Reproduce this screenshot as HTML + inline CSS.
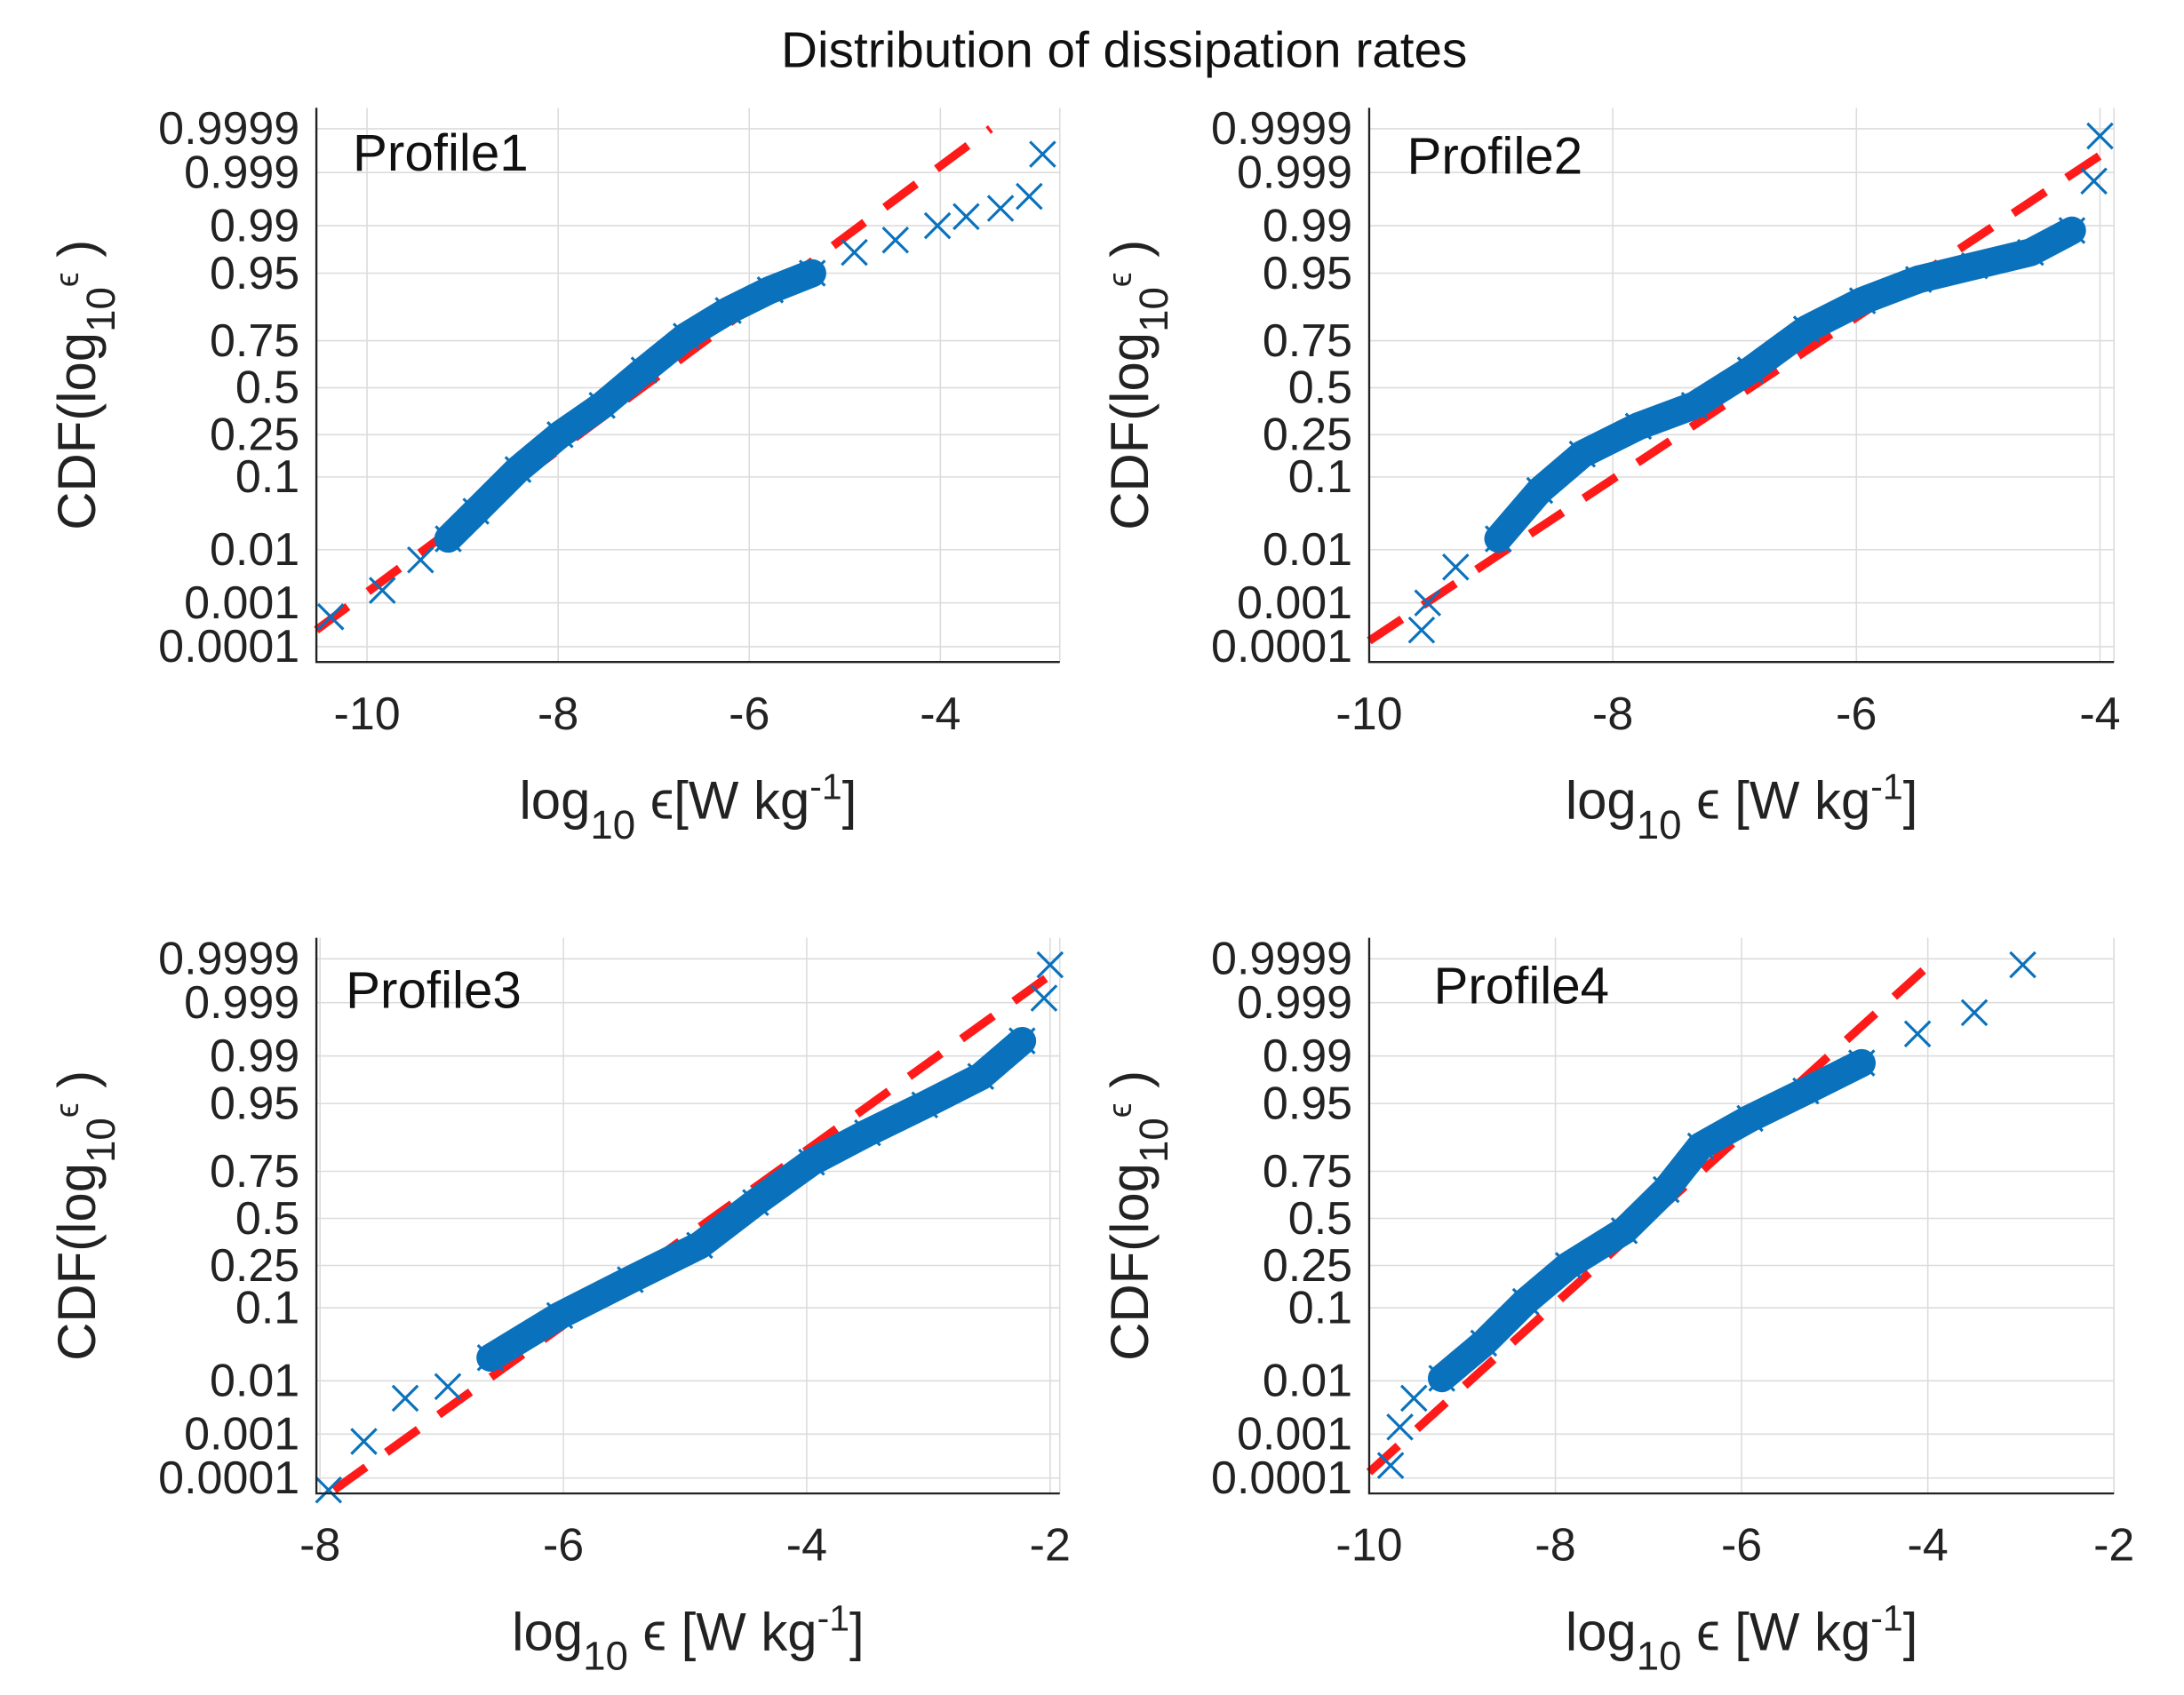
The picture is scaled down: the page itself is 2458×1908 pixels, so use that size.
<!DOCTYPE html>
<html><head><meta charset="utf-8"><style>
html,body{margin:0;padding:0;background:#fff}
svg{display:block;font-family:"Liberation Sans",sans-serif}
</style></head><body>
<svg id="fig" width="2458" height="1908" viewBox="0 0 1560 1211" preserveAspectRatio="none" xmlns="http://www.w3.org/2000/svg">
<text x="803" y="48" font-size="36" text-anchor="middle" fill="#111">Distribution of dissipation rates</text>
</svg>
<script>
// Profile data: log10 epsilon values and CDF probabilities
const p1x=[-10.38,-9.84,-9.44,-9.15,-8.86,-8.42,-7.98,-7.54,-7.10,-6.66,-6.22,-5.78,-5.34,-4.90,-4.47,-4.03,-3.73,-3.37,-3.07,-2.93];
const p1p=[0.0005,0.0018,0.0067,0.015,0.038,0.12,0.25,0.40,0.60,0.77,0.866,0.92,0.95,0.974,0.983,0.99,0.993,0.995,0.997,0.9996];
const p2x=[-9.57,-9.52,-9.29,-8.94,-8.60,-8.25,-7.79,-7.33,-6.87,-6.41,-5.95,-5.49,-5.03,-4.57,-4.23,-4.05,-4.00];
const p2p=[0.00025,0.001,0.005,0.015,0.07,0.17,0.29,0.40,0.60,0.80,0.894,0.94,0.96,0.974,0.988,0.9985,0.99985];
const p3x=[-7.93,-7.64,-7.30,-6.95,-6.60,-6.03,-5.45,-4.88,-4.42,-3.96,-3.50,-3.03,-2.57,-2.23,-2.05,-2.00];
const p3p=[0.00005,0.0007,0.005,0.008,0.023,0.082,0.19,0.35,0.59,0.79,0.89,0.948,0.979,0.9945,0.9992,0.99986];
const p4x=[-9.77,-9.67,-9.52,-9.22,-8.77,-8.32,-7.86,-7.26,-6.81,-6.44,-5.91,-5.31,-4.71,-4.11,-3.50,-2.98];
const p4p=[0.0002,0.0014,0.005,0.011,0.037,0.117,0.25,0.43,0.66,0.85,0.924,0.966,0.987,0.9959,0.9984,0.99986];
// Normal fit parameters (mean, std) for red dashed reference lines
const fitMu=[-7.12,-6.87,-4.78,-6.99];
const fitSigma=[0.98,0.861,0.798,0.828];
const yTickLabels=["0.0001","0.001","0.01","0.1","0.25","0.5","0.75","0.95","0.99","0.999","0.9999"];
const yTickValues=[0.0001,0.001,0.01,0.1,0.25,0.5,0.75,0.95,0.99,0.999,0.9999];
const xTicks1=[-10,-8,-6,-4];
const xTicks2=[-10,-8,-6,-4];
const xTicks3=[-8,-6,-4,-2];
const xTicks4=[-10,-8,-6,-4,-2];

function norminv(p){
  const a=[-39.6968302866538,220.946098424521,-275.928510446969,138.357751867269,-30.6647980661472,2.50662827745924];
  const b=[-54.4760987982241,161.585836858041,-155.698979859887,66.8013118877197,-13.2806815528857];
  const c=[-0.00778489400243029,-0.322396458041136,-2.40075827716184,-2.54973253934373,4.37466414146497,2.93816398269878];
  const d=[0.00778469570904146,0.32246712907004,2.445134137143,3.75440866190742];
  const pl=0.02425;let q,r;
  if(p<pl){q=Math.sqrt(-2*Math.log(p));return (((((c[0]*q+c[1])*q+c[2])*q+c[3])*q+c[4])*q+c[5])/((((d[0]*q+d[1])*q+d[2])*q+d[3])*q+1);}
  if(p>1-pl){q=Math.sqrt(-2*Math.log(1-p));return -(((((c[0]*q+c[1])*q+c[2])*q+c[3])*q+c[4])*q+c[5])/((((d[0]*q+d[1])*q+d[2])*q+d[3])*q+1);}
  q=p-0.5;r=q*q;return (((((a[0]*r+a[1])*r+a[2])*r+a[3])*r+a[4])*r+a[5])*q/(((((b[0]*r+b[1])*r+b[2])*r+b[3])*r+b[4])*r+1);
}
const NS="http://www.w3.org/2000/svg";
const svg=document.getElementById('fig');
function mk(tag,attrs,parent){const e=document.createElementNS(NS,tag);for(const k in attrs)e.setAttribute(k,attrs[k]);(parent||svg).appendChild(e);return e;}

const panels=[
 {name:'profile1',label:'Profile1',xs:p1x,ps:p1p,L:226,R:757,T:77,B:473,xmin:-10.53,xmax:-2.75,xt:xTicks1,dense:[3,12],lx:252,ly:122,sp:''},
 {name:'profile2',label:'Profile2',xs:p2x,ps:p2p,L:978,R:1510,T:77,B:473,xmin:-10,xmax:-3.885,xt:xTicks2,dense:[3,14],lx:1005,ly:124,sp:' '},
 {name:'profile3',label:'Profile3',xs:p3x,ps:p3p,L:226,R:757,T:670,B:1067,xmin:-8.03,xmax:-1.92,xt:xTicks3,dense:[4,13],lx:247,ly:720,sp:' '},
 {name:'profile4',label:'Profile4',xs:p4x,ps:p4p,L:978,R:1510,T:670,B:1067,xmin:-10,xmax:-2,xt:xTicks4,dense:[3,12],lx:1024,ly:717,sp:' '}
];
const zTop=4.02,zBot=-3.94;
panels.forEach((P,i)=>{
  const g=mk('g',{});
  
  
  const X=v=>P.L+(v-P.xmin)/(P.xmax-P.xmin)*(P.R-P.L);
  const Y=p=>P.B-(norminv(p)-zBot)/(zTop-zBot)*(P.B-P.T);
  const YZ=z=>P.B-(z-zBot)/(zTop-zBot)*(P.B-P.T);
  yTickValues.forEach((v,k)=>{
    const y=Y(v);
    const gl=mk('line',{x1:P.L,x2:P.R,y1:y,y2:y,stroke:'#dcdcdc','stroke-width':1},g);
    
    
    const t=mk('text',{x:P.L-12,y:y+11,'font-size':33,'text-anchor':'end',fill:'#222'},g);
    
    
    t.textContent=yTickLabels[k];
  });
  P.xt.forEach(v=>{
    const x=X(v);
    const gl=mk('line',{x1:x,x2:x,y1:P.T,y2:P.B,stroke:'#dcdcdc','stroke-width':1},g);
    
    
    const t=mk('text',{x:x,y:P.B+48,'font-size':33,'text-anchor':'middle',fill:'#222'},g);
    
    
    t.textContent=String(v);
  });
  const rg=mk('line',{x1:P.R,x2:P.R,y1:P.T,y2:P.B,stroke:'#dcdcdc','stroke-width':1},g);
  
  
  // fit line
  let z0=zBot+0.05,z1=Math.min(zTop-0.3,3.72);
  let xa=fitMu[i]+z0*fitSigma[i];
  if(xa<P.xmin){xa=P.xmin;z0=(xa-fitMu[i])/fitSigma[i];}
  let xb=fitMu[i]+z1*fitSigma[i];
  if(xb>P.xmax){xb=P.xmax;z1=(xb-fitMu[i])/fitSigma[i];}
  const fl=mk('line',{x1:X(xa),y1:YZ(z0),x2:X(xb),y2:YZ(z1),stroke:'#ff1a1a','stroke-width':6,'stroke-dasharray':'28 18'},g);
  
  
  // dense band
  let d='';
  for(let k=P.dense[0];k<=P.dense[1];k++){d+=(k===P.dense[0]?'M':'L')+X(P.xs[k]).toFixed(1)+' '+Y(P.ps[k]).toFixed(1);}
  const band=mk('path',{d:d,fill:'none',stroke:'#0a72bd','stroke-width':20,'stroke-linecap':'round','stroke-linejoin':'round'},g);
  
  
  P.xs.forEach((v,k)=>{
    const cx=X(v),cy=Y(P.ps[k]),s=9;
    const m=mk('path',{d:`M${cx-s} ${cy-s}L${cx+s} ${cy+s}M${cx-s} ${cy+s}L${cx+s} ${cy-s}`,stroke:'#0a72bd','stroke-width':2,fill:'none'},g);
    
    
  });
  const ax=mk('path',{d:`M${P.L} ${P.T}L${P.L} ${P.B}L${P.R} ${P.B}`,stroke:'#222','stroke-width':1.5,fill:'none'},g);
  
  
  const lab=mk('text',{x:P.lx,y:P.ly,'font-size':37,fill:'#111'},g);
  
  
  lab.textContent=P.label;
  const cx=(P.L+P.R)/2;
  const xl=mk('text',{x:cx,y:P.B+112,'font-size':38,'text-anchor':'middle',fill:'#222'},g);
  
  
  xl.innerHTML='log<tspan dy="14" font-size="29">10</tspan><tspan dy="-14"> ϵ'+P.sp+'[W kg</tspan><tspan dy="-14" font-size="26">-1</tspan><tspan dy="14">]</tspan>';
  const ylx=P.L-158,yly=(P.T+P.B)/2;
  const yl=mk('text',{x:ylx,y:yly,'font-size':38,'text-anchor':'middle',fill:'#222',transform:`rotate(-90 ${ylx} ${yly})`},g);
  
  
  yl.innerHTML='CDF(log<tspan dy="14" font-size="29">10</tspan><tspan dy="-26" font-size="24">ϵ</tspan><tspan dy="12"> )</tspan>';
});
</script>
</body></html>
